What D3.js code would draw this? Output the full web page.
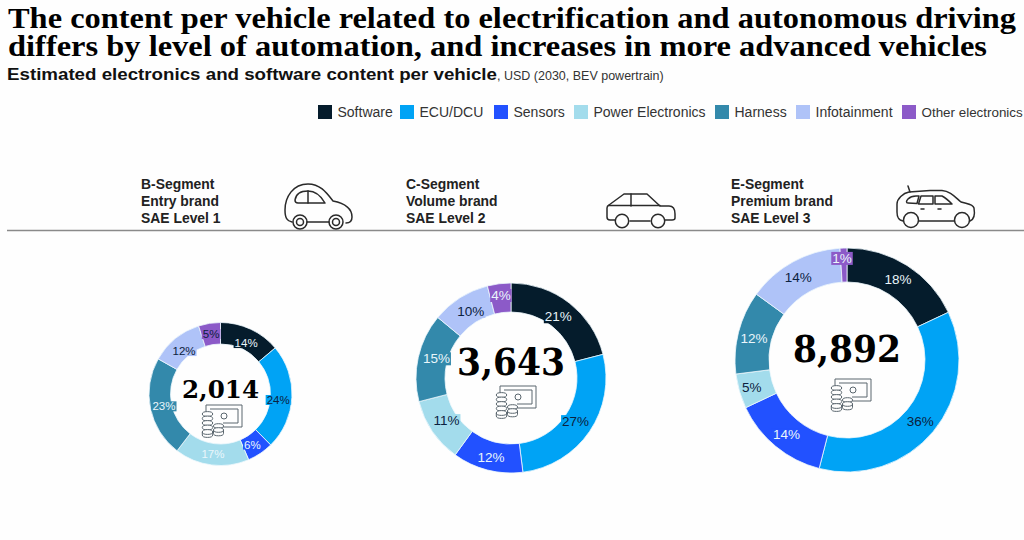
<!DOCTYPE html>
<html><head><meta charset="utf-8">
<script src="https://cdnjs.cloudflare.com/ajax/libs/d3/7.8.5/d3.min.js"></script>
<style>html,body{margin:0;padding:0;background:#fefefe;overflow:hidden}svg{display:block}</style>
</head><body><svg id="c" width="1024" height="540"></svg>
<script>
const titleLines = ["The content per vehicle related to electrification and autonomous driving","differs by level of automation, and increases in more advanced vehicles"];
const subtitleBold = "Estimated electronics and software content per vehicle";
const subtitleLight = ", USD (2030, BEV powertrain)";
const categories = ["Software","ECU/DCU","Sensors","Power Electronics","Harness","Infotainment","Other electronics"];
const colors = ["#051c2c","#00a3f5","#2251ff","#a3dcec","#3389ab","#afc3f8","#8c5ac8"];
const segmentNames = [["B-Segment","Entry brand","SAE Level 1"],["C-Segment","Volume brand","SAE Level 2"],["E-Segment","Premium brand","SAE Level 3"]];
const totals = ["2,014","3,643","8,892"];
const shareB = [14,24,6,17,23,12,5];
const shareC = [21,27,12,11,15,10,4];
const shareE = [18,36,14,5,12,14,1];

const svg = d3.select("#c");
const serif = "'Liberation Serif','DejaVu Serif',serif", dserif = "'DejaVu Serif',serif", sans = "'Liberation Sans',Arial,sans-serif";

// header
[[0,27.5,1008],[1,56,979]].forEach(([i,y,w])=>{
  svg.append("text").attr("x",8).attr("y",y).attr("font-family",serif).attr("font-weight",700)
    .attr("font-size",29).attr("fill","#000").attr("textLength",w).attr("lengthAdjust","spacingAndGlyphs").text(titleLines[i]);
});
svg.append("text").attr("x",7).attr("y",80).attr("font-family",sans).attr("font-weight",700).attr("font-size",17)
  .attr("fill","#111").attr("textLength",490).attr("lengthAdjust","spacingAndGlyphs").text(subtitleBold);
svg.append("text").attr("x",497).attr("y",80).attr("font-family",sans).attr("font-size",12.5).attr("fill","#333").text(subtitleLight);

// legend
const legendX = [318,400,494,574,715,796,902];
categories.forEach((c,i)=>{
  svg.append("rect").attr("x",legendX[i]).attr("y",105).attr("width",14).attr("height",14).attr("fill",colors[i]);
  svg.append("text").attr("x",legendX[i]+19.5).attr("y",116.5).attr("font-family",sans)
    .attr("font-size",i === categories.length-1 ? 13.4 : 14).attr("fill","#333").text(c);
});

// rule
svg.append("line").attr("x1",7).attr("x2",1024).attr("y1",230.5).attr("y2",230.5).attr("stroke","#8a8a8a").attr("stroke-width",1.3);

// segment headings
[141,406,731].forEach((x,k)=>{
  segmentNames[k].forEach((t,i)=>{
    svg.append("text").attr("x",x).attr("y",188.5+i*17).attr("font-family",sans).attr("font-weight",700)
      .attr("font-size",13.9).attr("fill","#222").text(t);
  });
});

// car icons
const carStroke = {fill:"none",stroke:"#2a2a2a","stroke-width":1.5,"stroke-linejoin":"round","stroke-linecap":"round"};
function drawPaths(g,list){ list.forEach(d=>{ const p=g.append("path").attr("d",d); Object.entries(carStroke).forEach(([k,v])=>p.attr(k,v)); }); }
function wheels(g,list){ list.forEach(([x,y,r])=>{ const p=g.append("circle").attr("cx",x).attr("cy",y).attr("r",r); Object.entries(carStroke).forEach(([k,v])=>p.attr(k,v)); }); }
const car1 = svg.append("g");
drawPaths(car1,[
 "M292,222 C287,221 285,218 285,210 C285,197 293,184 308,184 C320,184 326,192 333,201 C343,203 352,208 352,217 C352,221 350,223 346,223",
 "M307,222 H329",
 "M295,200 C296,193 302,191 308,191 C316,191 321,196 325,203 H298 C296,203 295,202 295,200 Z",
 "M308,191 V203"]);
wheels(car1,[[300,222,7],[300,222,3.5],[336,222,7],[336,222,3.5]]);
const car2 = svg.append("g");
drawPaths(car2,[
 "M615,220 H610 C608,220 607,219 607,217 V208 Q607,206 609,205 L624,194 H647 L660,206 H669 C673,206 675,209 675,214 V218 Q675,220 672,220 H665",
 "M630,221 H650","M609,205.5 H660","M631,194 V206"]);
wheels(car2,[[622,221,6.7],[658,221,6.7]]);
const car3 = svg.append("g");
drawPaths(car3,[
 "M903,221 C898,220 897,217 897,212 V204 C897,199 903,193 909,192 L930,190.5 H942 C950,191 955,197 961,202 C967,204 973,204 974,208 C975,214 975,219 970,221",
 "M919,221 H954","M908,186 L910,192",
 "M908,203 C906,203 906,201 908,199 C910,197 912,196 916,196 H919 L917,203.5 Z","M921,196 H933 V204 H918.5 Z","M935,196 H942 C946,198 949,201 952,204 H935 Z",
 "M921,209 H924","M938,209 H941"]);
wheels(car3,[[911,220,7.5],[962,220,7.5]]);

// money icon, drawn from its top-left corner
function money(g,x,y){
  const i = g.append("g").attr("transform",`translate(${x},${y})`).attr("fill","none").attr("stroke","#5a666e").attr("stroke-width",1);
  i.append("path").attr("d","M4,7 V0 H40 V22 H21");
  i.append("path").attr("d","M8,4 H36 V18 H21");
  i.append("circle").attr("cx",22).attr("cy",11).attr("r",3);
  [9,13.5,18,22.5,27].forEach(c=>{
    i.append("ellipse").attr("cx",5.5).attr("cy",c).attr("rx",5.2).attr("ry",2.4).attr("fill","#fefefe");
  });
  i.append("path").attr("d","M0.3,27 V30 A5.2,2.4 0 0 0 10.7,30 V27");
  [21,25].forEach(c=>{
    i.append("ellipse").attr("cx",16.5).attr("cy",c).attr("rx",5).attr("ry",2.3).attr("fill","#fefefe");
  });
  i.append("path").attr("d","M11.5,25 V28.5 A5,2.3 0 0 0 21.5,28.5 V25");
}

// donuts
const light = "#eaf6fb", dark = "#0b2140";
const donuts = [
 {values:shareB,total:totals[0],cx:220.5,cy:394,R:71.5,r:50,fs:11.5,num:25,numY:4,numW:77,iconX:-18.5,iconY:11,
  tc:[light,dark,light,light,light,dark,dark],nudge:[[0,4],[-3,3],[-2,0],[0,0],[3,0],[2,4],[0,0]]},
 {values:shareC,total:totals[1],cx:511,cy:378,R:95,r:66,fs:13.5,num:37,numY:-3,numW:108,iconX:-15,iconY:8,
  tc:[light,dark,light,dark,light,dark,light],nudge:[[-2,2],[-2,-2],[0,1],[2,-3],[4,-2],[3,1],[0,-3]]},
 {values:shareE,total:totals[2],cx:847,cy:360,R:112,r:78,fs:13.5,num:37,numY:2,numW:108,iconX:-16,iconY:19,
  tc:[light,dark,light,dark,light,dark,light],nudge:[[0,-1],[0,1],[0,1],[-4,1],[-1,2],[-3,0],[-2,-7]]}
];
const pie = d3.pie().sort(null).startAngle(0).endAngle(2*Math.PI);
donuts.forEach(d=>{
  const g = svg.append("g").attr("transform",`translate(${d.cx},${d.cy})`);
  const arc = d3.arc().innerRadius(d.r).outerRadius(d.R);
  const arcs = pie(d.values);
  g.selectAll("path").data(arcs).join("path").attr("d",arc)
    .attr("fill",(a,i)=>colors[i]).attr("stroke","#eef8fc").attr("stroke-width",0.8);
  const labels = g.selectAll("g.l").data(arcs).join("g").attr("class","l")
    .attr("transform",(a,i)=>{const c=arc.centroid(a);return `translate(${c[0]+d.nudge[i][0]},${c[1]+d.nudge[i][1]})`;});
  const texts = labels.append("text").attr("text-anchor","middle").attr("dy","0.36em")
    .attr("font-family",sans).attr("font-size",d.fs)
    .attr("fill",(a,i)=>d.tc[i]).text((a,i)=>d.values[i]+"%");
  // each label sits on a patch of its slice colour
  texts.each(function(a,i){
    const b=this.getBBox();
    d3.select(this.parentNode).insert("rect","text").attr("x",b.x-1).attr("y",b.y+1).attr("width",b.width+2).attr("height",b.height-2).attr("fill",colors[i]);
  });
  g.append("text").attr("text-anchor","middle").attr("y",d.numY).attr("font-family",dserif).attr("font-weight",700)
    .attr("font-size",d.num).attr("fill","#000").attr("textLength",d.numW).attr("lengthAdjust","spacingAndGlyphs").text(d.total);
  money(g,d.iconX,d.iconY);
});
</script></body></html>
